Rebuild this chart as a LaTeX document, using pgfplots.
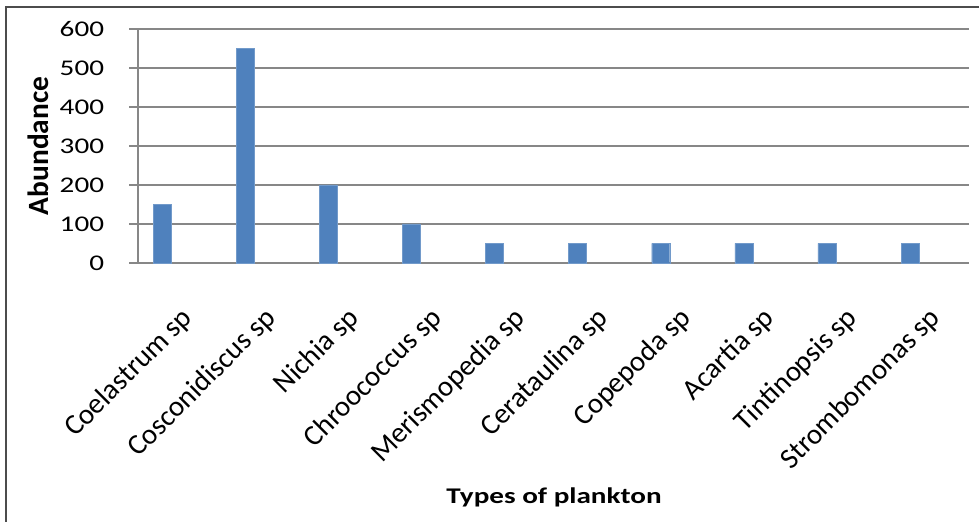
\documentclass[border=0pt]{standalone}
\usepackage{pgfplots}
\pgfplotsset{compat=1.18}
\usepackage{fontspec}
\setmainfont{Carlito}
\definecolor{barblue}{HTML}{4F81BD}
\definecolor{gridgray}{HTML}{878787}
\begin{document}
\begin{tikzpicture}[x=1bp,y=1bp]
\useasboundingbox (0,0) rectangle (979,522);
\draw[line width=1.2bp, color=black!70] (6,0) -- (6,515) -- (979,515);
\begin{axis}[
  at={(138bp,259bp)}, anchor=south west,
  scale only axis, width=831bp, height=234bp,
  xmin=0, xmax=10, ymin=0, ymax=600,
  ytick={0,100,200,300,400,500,600},
  xtick={0.5,1.5,2.5,3.5,4.5,5.5,6.5,7.5,8.5,9.5},
  xticklabels={Coelastrum sp,Cosconidiscus sp,Nichia sp,Chroococcus sp,Merismopedia sp,Cerataulina sp,Copepoda sp,Acartia sp,Tintinopsis sp,Strombomonas sp},
  axis x line=bottom, axis y line=left,
  axis line style={gridgray, line width=2bp, -},
  ymajorgrids, grid style={gridgray, line width=2bp},
  tick align=outside,
  x tick style={draw=none},
  y tick style={gridgray, line width=2bp},
  major tick length=9bp,
  /pgf/number format/assume math mode=true,
  yticklabel style={font=\fontsize{22.5}{27}\selectfont, text=black, xscale=1.3, anchor=east, inner sep=0pt, xshift=-19bp},
  xticklabel style={font=\fontsize{29}{34}\selectfont, text=black, rotate=45, anchor=north east, inner sep=0pt},
  xticklabel shift=33bp,
  xlabel={Types of plankton}, ylabel={Abundance},
  every axis x label/.style={at={(axis description cs:0.5006,-1.0)}, anchor=center, font=\bfseries\fontsize{22.5}{27}\selectfont, xscale=1.3, text=black},
  every axis y label/.style={at={(axis description cs:-0.120,0.5)}, rotate=90, anchor=center, font=\bfseries\fontsize{29.5}{34}\selectfont, text=black},
  clip=false,
]
\addplot[ybar, bar width=18bp, bar shift=0pt, fill=barblue, draw=barblue!80!white] coordinates {
  (0.29,150) (1.29,550) (2.29,200) (3.29,100) (4.29,50)
  (5.29,50) (6.29,50) (7.29,50) (8.29,50) (9.29,50)
};
\end{axis}
\end{tikzpicture}
\end{document}
